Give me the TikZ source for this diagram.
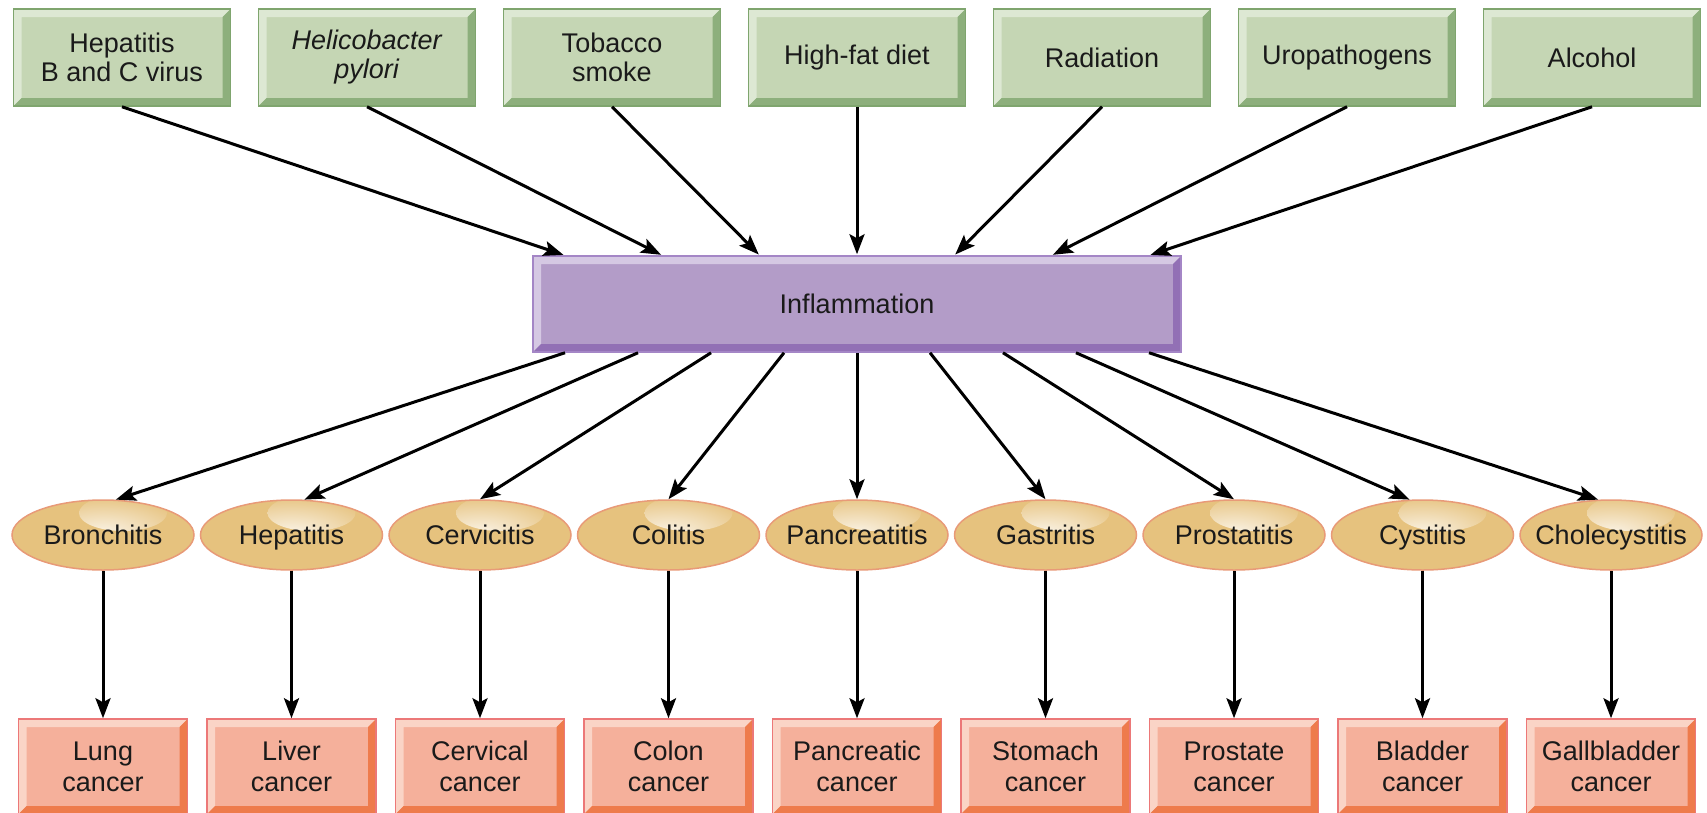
\documentclass[tikz,border=0pt]{standalone}
\usepackage{fontspec}
\setmainfont{Liberation Sans}
\usetikzlibrary{arrows.meta,shapes.geometric}
\definecolor{gfill}{HTML}{C5D6B4}
\definecolor{glight}{HTML}{DDE8D3}
\definecolor{gdark}{HTML}{8DAF7C}
\definecolor{gborder}{HTML}{7FA56E}
\definecolor{pfill}{HTML}{B39CC8}
\definecolor{plight}{HTML}{D5C8E3}
\definecolor{pdark}{HTML}{9270B5}
\definecolor{pborder}{HTML}{A486C6}
\definecolor{efill}{HTML}{E6C27E}
\definecolor{eborder}{HTML}{E89A78}
\definecolor{cfill}{HTML}{F5B09B}
\definecolor{clight}{HTML}{FAD4C6}
\definecolor{cdark}{HTML}{EE7B4C}
\definecolor{cborder}{HTML}{EC7878}
\definecolor{txt}{HTML}{1A1A1A}
\newcommand{\zw}[1]{\makebox[0pt]{#1}}
\tikzset{
  bevel/.style n args={4}{fill=#1, draw=#4, line width=1.5pt, path picture={
    \fill[#2] (path picture bounding box.north west) -- (path picture bounding box.north east)
      -- ([xshift=-8pt,yshift=-8pt]path picture bounding box.north east)
      -- ([xshift=8pt,yshift=-8pt]path picture bounding box.north west)
      -- ([xshift=8pt,yshift=8pt]path picture bounding box.south west)
      -- (path picture bounding box.south west) -- cycle;
    \fill[#3] (path picture bounding box.south east) -- (path picture bounding box.north east)
      -- ([xshift=-8pt,yshift=-8pt]path picture bounding box.north east)
      -- ([xshift=-8pt,yshift=8pt]path picture bounding box.south east)
      -- ([xshift=8pt,yshift=8pt]path picture bounding box.south west)
      -- (path picture bounding box.south west) -- cycle;
  }},
  topbox/.style={bevel={gfill}{glight}{gdark}{gborder}, minimum width=217pt, minimum height=97pt,
    inner sep=0pt, align=center, text=txt},
  inflbox/.style={bevel={pfill}{plight}{pdark}{pborder}, minimum width=648pt, minimum height=96pt,
    inner sep=0pt, text=txt, text height=19pt, text depth=0pt},
  ell/.style={ellipse, fill=efill, draw=eborder, line width=1.5pt, minimum width=182pt,
    minimum height=70pt, inner sep=0pt, text=txt, text height=19pt, text depth=0pt, path picture={
    \shade[inner color=white!80!efill, outer color=efill]
      ([xshift=20pt,yshift=22pt]path picture bounding box.center) ellipse (44pt and 18pt);}},
  cbox/.style={bevel={cfill}{clight}{cdark}{cborder}, minimum width=169pt, minimum height=95pt,
    inner sep=0pt, align=center, text=txt},
  arr/.style={-{Stealth[length=20pt,width=15pt,inset=4pt]}, line width=3pt, black},
}
\begin{document}
\begin{tikzpicture}[x=1pt,y=-1pt,font=\fontsize{27}{29}\selectfont]
\useasboundingbox[fill=white] (0,0) rectangle (1707,812);
% top causes
\node[topbox] (t1) at (122,57.5) {Hepatitis\\B and C virus};
\node[topbox] (t2) at (367,57.5) {\textit{Helicobacter}\\\textit{pylori}};
\node[topbox] (t3) at (612,57.5) {Tobacco\\smoke};
\node[topbox] (t4) at (857,57.5) {High-fat diet};
\node[topbox] (t5) at (1102,57.5) {Radiation};
\node[topbox] (t6) at (1347,57.5) {Uropathogens};
\node[topbox] (t7) at (1592,57.5) {Alcohol};
% inflammation
\node[inflbox] (inf) at (857,304) {Inflammation};
% ellipses
\node[ell] (e1) at (103,535) {\zw{Bronchitis}};
\node[ell] (e2) at (291.5,535) {\zw{Hepatitis}};
\node[ell] (e3) at (480,535) {\zw{Cervicitis}};
\node[ell] (e4) at (668.5,535) {\zw{Colitis}};
\node[ell] (e5) at (857,535) {\zw{Pancreatitis}};
\node[ell] (e6) at (1045.5,535) {\zw{Gastritis}};
\node[ell] (e7) at (1234,535) {\zw{Prostatitis}};
\node[ell] (e8) at (1422.5,535) {\zw{Cystitis}};
\node[ell] (e9) at (1611,535) {\zw{Cholecystitis}};
% cancers
\begin{scope}[font=\fontsize{27}{31}\selectfont]
\node[cbox] (c1) at (103,766.5) {Lung\\cancer};
\node[cbox] (c2) at (291.5,766.5) {Liver\\cancer};
\node[cbox] (c3) at (480,766.5) {Cervical\\cancer};
\node[cbox] (c4) at (668.5,766.5) {Colon\\cancer};
\node[cbox] (c5) at (857,766.5) {Pancreatic\\cancer};
\node[cbox] (c6) at (1045.5,766.5) {Stomach\\cancer};
\node[cbox] (c7) at (1234,766.5) {Prostate\\cancer};
\node[cbox] (c8) at (1422.5,766.5) {Bladder\\cancer};
\node[cbox] (c9) at (1611,766.5) {Gallbladder\\cancer};
\end{scope}
% arrows top -> inflammation
\foreach \i/\k in {1/-3,2/-2,3/-1,4/0,5/1,6/2,7/3}{
  \draw[arr, shorten >=1pt] (t\i.south) -- ([xshift=\k*97.5pt]inf.north);
}
% arrows inflammation -> ellipses
\draw[arr] ([xshift=-4*73pt]inf.south) -- (e1.70);
\draw[arr] ([xshift=-3*73pt]inf.south) -- (e2.70);
\draw[arr] ([xshift=-2*73pt]inf.south) -- (e3.north);
\draw[arr] ([xshift=-1*73pt]inf.south) -- (e4.north);
\draw[arr] (inf.south) -- (e5.north);
\draw[arr] ([xshift=1*73pt]inf.south) -- (e6.north);
\draw[arr] ([xshift=2*73pt]inf.south) -- (e7.north);
\draw[arr] ([xshift=3*73pt]inf.south) -- (e8.110);
\draw[arr] ([xshift=4*73pt]inf.south) -- (e9.110);
% arrows ellipses -> cancers
\foreach \i in {1,...,9}{
  \draw[arr] (e\i.south) -- (c\i.north);
}
\end{tikzpicture}
\end{document}
